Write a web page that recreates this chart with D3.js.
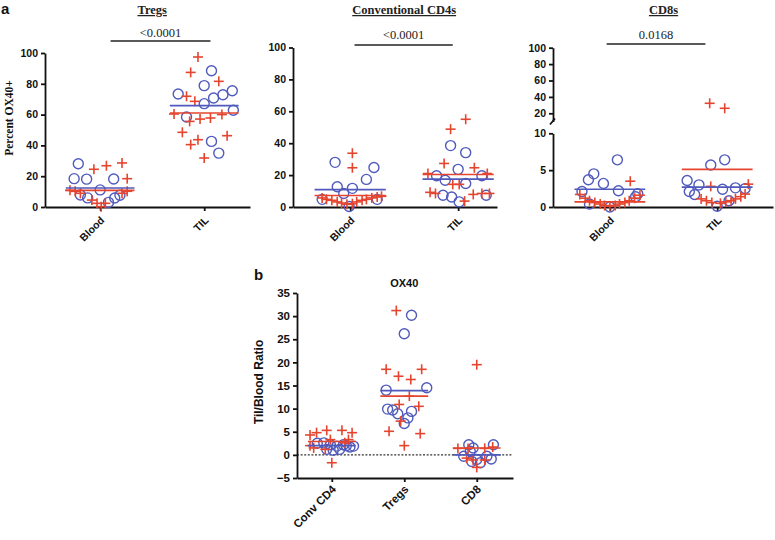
<!DOCTYPE html>
<html><head><meta charset="utf-8">
<script src="https://cdn.jsdelivr.net/npm/d3@7"></script>
<style>
html,body{margin:0;padding:0;background:#fff;}
svg{display:block;}
.tick text{font-family:Arial,"Liberation Sans",sans-serif;font-weight:bold;}
</style></head>
<body>
<svg id="chart" width="775" height="540"></svg>
<script>
// ===== DATA (value, horizontal spread in category units) =====
const groupsA = ["Blood", "TIL"];
const yTicksA = [0, 20, 40, 60, 80, 100];
const yTicksCD8Low = [0, 5, 10];
const yTicksCD8High = [20, 40, 60, 80, 100];

// Tregs
const tregsBloodO = [[28.1,-0.21],[18.4,-0.25],[18.1,-0.13],[18.2,0.13],[11.1,0],[7.8,-0.19],[5.9,-0.12],[3.0,0.08],[5.8,0.14],[7.6,0.19]];
const tregsBloodX = [[24.5,-0.06],[26.8,0.06],[28.6,0.21],[18.4,0.26],[10.8,-0.29],[10.2,-0.24],[10.2,0.26],[8.9,0.21],[8.9,-0.19],[4.5,-0.08],[2.4,-0.03],[0.2,0.01],[2.4,0.05]];
const tregsTilO = [[73.4,-0.25],[88.5,0.07],[78.8,0],[70.8,0.09],[72.9,0.18],[75.5,0.27],[67.1,0],[58.4,-0.17],[62.8,0.28],[42.6,0.07],[35.0,0.14]];
const tregsTilX = [[97.4,-0.06],[87.4,-0.13],[81.6,0.14],[71.9,-0.17],[68.6,-0.09],[60.4,-0.29],[55.6,-0.14],[57.1,-0.04],[57.8,0.06],[60.0,0.17],[48.5,-0.21],[40.5,-0.13],[43.7,-0.06],[46.3,0.22],[31.8,0]];
const tregsMeanO = [12.3, 65.8];
const tregsMeanX = [10.8, 61.0];

// Conventional CD4s
const cd4BloodO = [[28.0,-0.14],[24.8,0.22],[17.3,0.15],[12.7,-0.12],[11.7,0.02],[8.5,-0.06],[4.8,-0.26],[4.8,0.25],[0.3,-0.01]];
const cd4BloodX = [[33.7,0.02],[24.6,0.02],[5.7,-0.26],[4.8,-0.22],[4.2,-0.17],[3.2,-0.12],[2.5,-0.08],[1.7,-0.03],[2.1,0.02],[3.2,0.06],[4.2,0.11],[4.8,0.15],[5.7,0.2],[6.3,0.25],[6.7,0.29]];
const cd4TilO = [[38.5,-0.07],[34.1,0.07],[23.6,0],[19.6,-0.2],[16.8,-0.12],[14.7,0.07],[19.6,0.22],[7.4,-0.14],[6.3,-0.06],[3.2,0.01],[7.4,0.26]];
const cd4TilX = [[48.8,-0.07],[55.0,0.07],[27.3,-0.13],[24.6,0.15],[21.0,-0.28],[21.0,0.27],[14.2,-0.05],[14.2,0.01],[9.2,-0.26],[8.5,-0.21],[3.7,0.06],[7.9,0.14],[8.5,0.22],[8.5,0.29]];
const cd4MeanO = [10.9, 17.5];
const cd4MeanX = [7.2, 20.4];

// CD8s
const cd8BloodO = [[6.4,0.07],[4.5,-0.15],[3.7,-0.2],[3.2,-0.06],[2.1,-0.26],[2.2,0.08],[1.8,0.26],[1.4,0.24],[0.4,-0.19],[0.0,0]];
const cd8BloodX = [[3.5,0.19],[1.7,-0.28],[1.2,-0.23],[0.85,-0.19],[0.6,-0.14],[0.4,-0.09],[0.2,-0.05],[0.1,0],[0.2,0.05],[0.4,0.09],[0.6,0.14],[0.85,0.18],[1.2,0.23],[1.6,0.28]];
const cd8TilO = [[5.7,-0.06],[6.4,0.07],[3.6,-0.28],[3.0,-0.17],[2.1,-0.26],[1.7,-0.21],[2.4,0.05],[2.6,0.17],[0.85,0.11],[0.1,0],[2.5,0.26]];
const cd8TilX = [[32.2,-0.07],[26.1,0.07],[2.8,-0.06],[3.1,0.29],[1.75,0.26],[1.4,0.22],[1.1,0.17],[0.85,0.13],[0.7,0.08],[0.5,0.03],[1.1,-0.15],[0.85,-0.1],[0.6,-0.05]];
const cd8MeanO = [2.4, 2.7];
const cd8MeanX = [0.7, 5.1];

const pValues = ["<0.0001", "<0.0001", "0.0168"];
const panelTitles = ["Tregs", "Conventional CD4s", "CD8s"];

// Panel b: OX40 TIL/Blood ratio
const groupsB = ["Conv CD4", "Tregs", "CD8"];
const yTicksB = [-5, 0, 5, 10, 15, 20, 25, 30, 35];
const ratioConvO = [[2.6,-0.11],[2.2,-0.02],[1.9,0.07],[2.2,0.16],[1.7,0.25],[1.2,-0.07],[1.0,0.02],[1.2,0.11],[2.0,0.2],[1.9,0.3],[2.5,-0.2]];
const ratioConvX = [[4.8,-0.21],[5.3,-0.07],[5.3,0.14],[4.8,0.28],[2.0,-0.3],[3.3,-0.02],[1.2,-0.09],[2.6,0.18],[3.3,0.23],[1.5,-0.25],[-1.7,0],[4.3,-0.3]];
const ratioTregO = [[30.2,0.1],[26.2,0],[14.0,-0.25],[14.5,0.31],[9.9,-0.23],[9.7,-0.16],[8.9,-0.09],[9.4,0.1],[8.0,0.05],[6.8,0]];
const ratioTregX = [[31.2,-0.11],[18.5,-0.25],[18.5,0.24],[17.0,-0.08],[16.3,0.09],[12.7,0.07],[10.9,-0.07],[10.5,0.2],[7.3,-0.05],[5.1,-0.21],[4.6,0.22],[2.0,0]];
const ratioCd8O = [[2.2,-0.11],[2.2,0.23],[0.8,-0.09],[-0.3,-0.18],[-0.3,0.14],[-0.9,0.2],[-1.4,-0.07],[-1.7,0.05],[-1.0,0],[1.5,-0.05]];
const ratioCd8X = [[19.5,0],[1.4,-0.26],[1.4,-0.12],[1.4,0.11],[1.7,0.22],[-0.7,-0.14],[-1.1,-0.05],[-2.7,0],[-1.1,0.11]];
const ratioMeanO = [2.0, 13.9, 0.0];
const ratioMeanX = [2.9, 12.7, 1.5];

// ===== STYLE =====
const BLUE = "#4f5abc", RED = "#e5442e";
const SANS = "Arial, 'Liberation Sans', sans-serif";
const SERIF = "'Liberation Serif', 'DejaVu Serif', serif";
const svg = d3.select("#chart");

function circles(g, data, cat, x, y, r) {
  g.selectAll(null).data(data).enter().append("circle")
    .attr("cx", d => x(cat + d[1])).attr("cy", d => y(d[0])).attr("r", r)
    .attr("fill", "none").attr("stroke", BLUE).attr("stroke-width", 1.4);
}
function crosses(g, data, cat, x, y, s) {
  const sel = g.selectAll(null).data(data).enter().append("g")
    .attr("transform", d => `translate(${x(cat + d[1])},${y(d[0])})`);
  sel.append("line").attr("x1", -s).attr("x2", s).attr("y1", 0).attr("y2", 0);
  sel.append("line").attr("x1", 0).attr("x2", 0).attr("y1", -s).attr("y2", s);
  sel.selectAll("line").attr("stroke", RED).attr("stroke-width", 1.6);
}
function meanLine(g, cat, v, x, y, color, half) {
  g.append("line").attr("x1", x(cat - half)).attr("x2", x(cat + half))
    .attr("y1", y(v)).attr("y2", y(v)).attr("stroke", color).attr("stroke-width", 1.6);
}
function styleAxis(g, fs) {
  g.selectAll("path,line").attr("stroke", "#111").attr("stroke-width", 1.8);
  g.selectAll("text").attr("font-size", fs).attr("fill", "#111");
}

// ===== PANEL A =====
const panelsA = [
  {title: panelTitles[0], p: pValues[0], xd: [-0.53, 1.44], xr: [45, 250], y: [207, 53],
   data: [[tregsBloodO, tregsBloodX], [tregsTilO, tregsTilX]], mO: tregsMeanO, mX: tregsMeanX,
   bar: [0.10, 1.06], barY: 41, pY: 37},
  {title: panelTitles[1], p: pValues[1], xd: [-0.53, 1.36], xr: [293, 497], y: [207, 47.5],
   data: [[cd4BloodO, cd4BloodX], [cd4TilO, cd4TilX]], mO: cd4MeanO, mX: cd4MeanX,
   bar: [0.04, 0.95], barY: 45, pY: 39},
  {title: panelTitles[2], p: pValues[2], xd: [-0.53, 1.52], xr: [553, 773], broken: true,
   data: [[cd8BloodO, cd8BloodX], [cd8TilO, cd8TilX]], mO: cd8MeanO, mX: cd8MeanX,
   bar: [-0.03, 0.89], barY: 44, pY: 39}
];

panelsA.forEach(P => {
  const g = svg.append("g");
  const x = d3.scaleLinear().domain(P.xd).range(P.xr);
  let y;
  const axisX = P.xr[0];
  if (P.broken) {
    const yLow = d3.scaleLinear().domain([0, 10]).range([207, 133.3]);
    const yHigh = d3.scaleLinear().domain([10, 100]).range([121.5, 47.7]);
    y = v => v <= 10 ? yLow(v) : yHigh(v);
    const aL = g.append("g").attr("transform", `translate(${axisX},0)`)
      .call(d3.axisLeft(yLow).tickValues(yTicksCD8Low).tickSize(4).tickSizeOuter(0).tickPadding(3));
    styleAxis(aL, "10.5px");
    const aH = g.append("g").attr("transform", `translate(${axisX},0)`)
      .call(d3.axisLeft(yHigh).tickValues(yTicksCD8High).tickSize(4).tickSizeOuter(0).tickPadding(3));
    styleAxis(aH, "10.5px");
    // break mark
    g.append("line").attr("x1", axisX - 3).attr("x2", axisX + 2)
      .attr("y1", yHigh(10) + 3).attr("y2", yHigh(10) - 3)
      .attr("stroke", "#111").attr("stroke-width", 1.8);
  } else {
    const ys = d3.scaleLinear().domain([0, 100]).range(P.y);
    y = ys;
    const aY = g.append("g").attr("transform", `translate(${axisX},0)`)
      .call(d3.axisLeft(ys).tickValues(yTicksA).tickSize(4).tickSizeOuter(0).tickPadding(3));
    styleAxis(aY, "10.5px");
  }
  const baseY = y(0);
  const aX = g.append("g").attr("transform", `translate(0,${baseY})`)
    .call(d3.axisBottom(x).tickValues([0, 1]).tickFormat("").tickSize(4).tickSizeOuter(0));
  styleAxis(aX, "10px");
  groupsA.forEach((name, i) => {
    g.append("text").attr("transform", `translate(${x(i) + 5},${baseY + 14}) rotate(-45)`)
      .attr("text-anchor", "end").attr("font-family", SANS).attr("font-weight", "bold")
      .attr("font-size", "10.5px").attr("fill", "#111").text(name);
  });
  P.data.forEach((pair, i) => {
    circles(g, pair[0], i, x, y, 5);
    crosses(g, pair[1], i, x, y, 5);
  });
  P.mO.forEach((v, i) => meanLine(g, i, v, x, y, BLUE, 0.33));
  P.mX.forEach((v, i) => meanLine(g, i, v, x, y, RED, 0.33));
  // title
  g.append("text").attr("x", x(0.5)).attr("y", 14).attr("text-anchor", "middle")
    .attr("font-family", SERIF).attr("font-weight", "bold").attr("font-size", "12.5px")
    .attr("text-decoration", "underline").attr("fill", "#222").text(P.title);
  // significance bar
  g.append("line").attr("x1", x(P.bar[0])).attr("x2", x(P.bar[1]))
    .attr("y1", P.barY).attr("y2", P.barY).attr("stroke", "#222").attr("stroke-width", 1.5);
  g.append("text").attr("x", x((P.bar[0] + P.bar[1]) / 2)).attr("y", P.pY).attr("text-anchor", "middle")
    .attr("font-family", SERIF).attr("font-size", "12.5px").attr("fill", "#222").text(P.p);
});

svg.append("text").attr("x", 1).attr("y", 14).attr("font-family", SANS).attr("font-weight", "bold")
  .attr("font-size", "15px").attr("fill", "#111").text("a");
svg.append("text").attr("transform", "translate(13,118) rotate(-90)").attr("text-anchor", "middle")
  .attr("font-family", SERIF).attr("font-weight", "bold").attr("font-size", "11.5px").attr("fill", "#111")
  .text("Percent OX40+");

// ===== PANEL B =====
const gb = svg.append("g");
const xb = d3.scaleLinear().domain([-0.48, 2.5]).range([297, 513]);
const yb = d3.scaleLinear().domain([-5, 35]).range([478, 293]);
gb.append("line").attr("x1", xb(-0.48)).attr("x2", xb(2.5)).attr("y1", yb(0)).attr("y2", yb(0))
  .attr("stroke", "#333").attr("stroke-width", 1.3).attr("stroke-dasharray", "2,1.6");
const aYB = gb.append("g").attr("transform", `translate(${xb(-0.48)},0)`)
  .call(d3.axisLeft(yb).tickValues(yTicksB).tickSize(4).tickSizeOuter(0).tickPadding(3));
styleAxis(aYB, "11.5px");
const aXB = gb.append("g").attr("transform", `translate(0,${yb(-5)})`)
  .call(d3.axisBottom(xb).tickValues([0, 1, 2]).tickFormat("").tickSize(4).tickSizeOuter(0));
styleAxis(aXB, "11px");
groupsB.forEach((name, i) => {
  gb.append("text").attr("transform", `translate(${xb(i) + 5},${yb(-5) + 12}) rotate(-45)`)
    .attr("text-anchor", "end").attr("font-family", SANS).attr("font-weight", "bold")
    .attr("font-size", "11.5px").attr("fill", "#111").text(name);
});
const bData = [[ratioConvO, ratioConvX], [ratioTregO, ratioTregX], [ratioCd8O, ratioCd8X]];
bData.forEach((pair, i) => {
  circles(gb, pair[0], i, xb, yb, 5);
  crosses(gb, pair[1], i, xb, yb, 5);
});
ratioMeanO.forEach((v, i) => meanLine(gb, i, v, xb, yb, BLUE, 0.33));
ratioMeanX.forEach((v, i) => meanLine(gb, i, v, xb, yb, RED, 0.33));
gb.append("text").attr("x", xb(1)).attr("y", 287).attr("text-anchor", "middle")
  .attr("font-family", SANS).attr("font-weight", "bold").attr("font-size", "11px").attr("fill", "#111").text("OX40");
svg.append("text").attr("x", 254).attr("y", 280).attr("font-family", SANS).attr("font-weight", "bold")
  .attr("font-size", "15px").attr("fill", "#111").text("b");
svg.append("text").attr("transform", "translate(263,382) rotate(-90)").attr("text-anchor", "middle")
  .attr("font-family", SANS).attr("font-weight", "bold").attr("font-size", "12px").attr("fill", "#111")
  .text("Til/Blood Ratio");
</script>
</body></html>
